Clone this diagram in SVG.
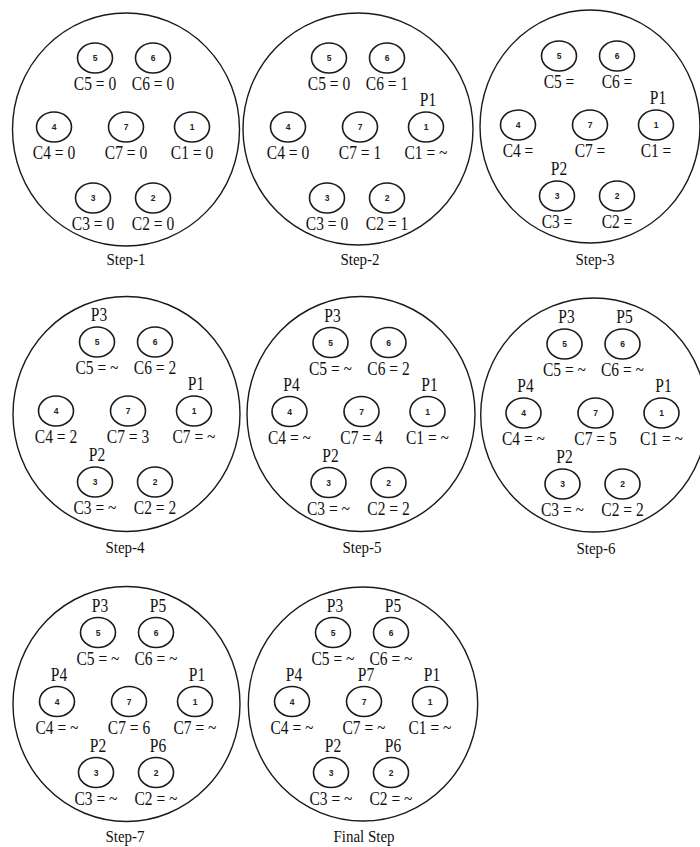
<svg xmlns="http://www.w3.org/2000/svg" width="700" height="847" viewBox="0 0 700 847">
<style>
.big{fill:none;stroke:#1a1a1a;stroke-width:1.4}
.nd{fill:none;stroke:#1a1a1a;stroke-width:1.6}
.num{font-family:"Liberation Sans",Arial,sans-serif;font-size:8.5px;font-weight:bold;fill:#222;text-anchor:middle}
.lab{font-family:"Liberation Serif","Times New Roman",serif;font-size:15.5px;fill:#111;text-anchor:middle}
.cap{font-family:"Liberation Serif","Times New Roman",serif;font-size:15px;fill:#111;text-anchor:middle}
</style>
<rect width="700" height="847" fill="#fff"/>
<g id="connectors"/>

<!-- Step-1 -->
<g id="step1" transform="translate(125,130)">
<ellipse class="big" cx="1" cy="-0.5" rx="113.5" ry="116.5"/>
<g id="s1-n5" transform="translate(-30,-72)"><ellipse class="nd" rx="17.5" ry="15"/><text class="num" y="3">5</text><text class="lab" transform="translate(0,32) scale(1,1.2)">C5 = 0</text></g>
<g id="s1-n6" transform="translate(28,-72)"><ellipse class="nd" rx="17.5" ry="15"/><text class="num" y="3">6</text><text class="lab" transform="translate(0,32) scale(1,1.2)">C6 = 0</text></g>
<g id="s1-n4" transform="translate(-71,-3)"><ellipse class="nd" rx="17.5" ry="15"/><text class="num" y="3">4</text><text class="lab" transform="translate(0,32) scale(1,1.2)">C4 = 0</text></g>
<g id="s1-n7" transform="translate(1,-3)"><ellipse class="nd" rx="17.5" ry="15"/><text class="num" y="3">7</text><text class="lab" transform="translate(0,32) scale(1,1.2)">C7 = 0</text></g>
<g id="s1-n1" transform="translate(67,-3)"><ellipse class="nd" rx="17.5" ry="15"/><text class="num" y="3">1</text><text class="lab" transform="translate(0,32) scale(1,1.2)">C1 = 0</text></g>
<g id="s1-n3" transform="translate(-32,68)"><ellipse class="nd" rx="17.5" ry="15"/><text class="num" y="3">3</text><text class="lab" transform="translate(0,32) scale(1,1.2)">C3 = 0</text></g>
<g id="s1-n2" transform="translate(28,68)"><ellipse class="nd" rx="17.5" ry="15"/><text class="num" y="3">2</text><text class="lab" transform="translate(0,32) scale(1,1.2)">C2 = 0</text></g>
<text class="cap" transform="translate(1,135) scale(1,1.18)">Step-1</text>
</g>

<!-- Step-2 -->
<g id="step2" transform="translate(359,130)">
<ellipse class="big" cx="-1" cy="-1" rx="115" ry="116"/>
<g id="s2-n5" transform="translate(-30,-72)"><ellipse class="nd" rx="17.5" ry="15"/><text class="num" y="3">5</text><text class="lab" transform="translate(0,32) scale(1,1.2)">C5 = 0</text></g>
<g id="s2-n6" transform="translate(28,-72)"><ellipse class="nd" rx="17.5" ry="15"/><text class="num" y="3">6</text><text class="lab" transform="translate(0,32) scale(1,1.2)">C6 = 1</text></g>
<g id="s2-n4" transform="translate(-71,-3)"><ellipse class="nd" rx="17.5" ry="15"/><text class="num" y="3">4</text><text class="lab" transform="translate(0,32) scale(1,1.2)">C4 = 0</text></g>
<g id="s2-n7" transform="translate(1,-3)"><ellipse class="nd" rx="17.5" ry="15"/><text class="num" y="3">7</text><text class="lab" transform="translate(0,32) scale(1,1.2)">C7 = 1</text></g>
<g id="s2-n1" transform="translate(67,-3)"><ellipse class="nd" rx="17.5" ry="15"/><text class="num" y="3">1</text><text class="lab" transform="translate(0,32) scale(1,1.2)">C1 = ~</text><text class="lab" transform="translate(2,-21) scale(1,1.2)">P1</text></g>
<g id="s2-n3" transform="translate(-32,68)"><ellipse class="nd" rx="17.5" ry="15"/><text class="num" y="3">3</text><text class="lab" transform="translate(0,32) scale(1,1.2)">C3 = 0</text></g>
<g id="s2-n2" transform="translate(28,68)"><ellipse class="nd" rx="17.5" ry="15"/><text class="num" y="3">2</text><text class="lab" transform="translate(0,32) scale(1,1.2)">C2 = 1</text></g>
<text class="cap" transform="translate(1,135) scale(1,1.18)">Step-2</text>
</g>

<!-- Step-3 -->
<g id="step3" transform="translate(589,128)">
<ellipse class="big" cx="1" cy="-1.5" rx="110" ry="116.5"/>
<g id="s3-n5" transform="translate(-30,-72)"><ellipse class="nd" rx="17.5" ry="15"/><text class="num" y="3">5</text><text class="lab" transform="translate(0,32) scale(1,1.2)">C5 =</text></g>
<g id="s3-n6" transform="translate(28,-72)"><ellipse class="nd" rx="17.5" ry="15"/><text class="num" y="3">6</text><text class="lab" transform="translate(0,32) scale(1,1.2)">C6 =</text></g>
<g id="s3-n4" transform="translate(-71,-3)"><ellipse class="nd" rx="17.5" ry="15"/><text class="num" y="3">4</text><text class="lab" transform="translate(0,32) scale(1,1.2)">C4 =</text></g>
<g id="s3-n7" transform="translate(1,-3)"><ellipse class="nd" rx="17.5" ry="15"/><text class="num" y="3">7</text><text class="lab" transform="translate(0,32) scale(1,1.2)">C7 =</text></g>
<g id="s3-n1" transform="translate(67,-3)"><ellipse class="nd" rx="17.5" ry="15"/><text class="num" y="3">1</text><text class="lab" transform="translate(0,32) scale(1,1.2)">C1 =</text><text class="lab" transform="translate(2,-21) scale(1,1.2)">P1</text></g>
<g id="s3-n3" transform="translate(-32,68)"><ellipse class="nd" rx="17.5" ry="15"/><text class="num" y="3">3</text><text class="lab" transform="translate(0,32) scale(1,1.2)">C3 =</text><text class="lab" transform="translate(2,-21) scale(1,1.2)">P2</text></g>
<g id="s3-n2" transform="translate(28,68)"><ellipse class="nd" rx="17.5" ry="15"/><text class="num" y="3">2</text><text class="lab" transform="translate(0,32) scale(1,1.2)">C2 =</text></g>
<text class="cap" transform="translate(6,137) scale(1,1.18)">Step-3</text>
</g>

<!-- Step-4 -->
<g id="step4" transform="translate(127,414)">
<ellipse class="big" cx="-0.5" cy="0" rx="113.5" ry="117.5"/>
<g id="s4-n5" transform="translate(-30,-72)"><ellipse class="nd" rx="17.5" ry="15"/><text class="num" y="3">5</text><text class="lab" transform="translate(0,32) scale(1,1.2)">C5 = ~</text><text class="lab" transform="translate(2,-21) scale(1,1.2)">P3</text></g>
<g id="s4-n6" transform="translate(28,-72)"><ellipse class="nd" rx="17.5" ry="15"/><text class="num" y="3">6</text><text class="lab" transform="translate(0,32) scale(1,1.2)">C6 = 2</text></g>
<g id="s4-n4" transform="translate(-71,-3)"><ellipse class="nd" rx="17.5" ry="15"/><text class="num" y="3">4</text><text class="lab" transform="translate(0,32) scale(1,1.2)">C4 = 2</text></g>
<g id="s4-n7" transform="translate(1,-3)"><ellipse class="nd" rx="17.5" ry="15"/><text class="num" y="3">7</text><text class="lab" transform="translate(0,32) scale(1,1.2)">C7 = 3</text></g>
<g id="s4-n1" transform="translate(67,-3)"><ellipse class="nd" rx="17.5" ry="15"/><text class="num" y="3">1</text><text class="lab" transform="translate(0,32) scale(1,1.2)">C7 = ~</text><text class="lab" transform="translate(2,-21) scale(1,1.2)">P1</text></g>
<g id="s4-n3" transform="translate(-32,68)"><ellipse class="nd" rx="17.5" ry="15"/><text class="num" y="3">3</text><text class="lab" transform="translate(0,32) scale(1,1.2)">C3 = ~</text><text class="lab" transform="translate(2,-21) scale(1,1.2)">P2</text></g>
<g id="s4-n2" transform="translate(28,68)"><ellipse class="nd" rx="17.5" ry="15"/><text class="num" y="3">2</text><text class="lab" transform="translate(0,32) scale(1,1.2)">C2 = 2</text></g>
<text class="cap" transform="translate(-2,139) scale(1,1.18)">Step-4</text>
</g>

<!-- Step-5 -->
<g id="step5" transform="translate(360.5,414.5)">
<ellipse class="big" cx="0.5" cy="-0.5" rx="114" ry="117.5"/>
<g id="s5-n5" transform="translate(-30,-72)"><ellipse class="nd" rx="17.5" ry="15"/><text class="num" y="3">5</text><text class="lab" transform="translate(0,32) scale(1,1.2)">C5 = ~</text><text class="lab" transform="translate(2,-21) scale(1,1.2)">P3</text></g>
<g id="s5-n6" transform="translate(28,-72)"><ellipse class="nd" rx="17.5" ry="15"/><text class="num" y="3">6</text><text class="lab" transform="translate(0,32) scale(1,1.2)">C6 = 2</text></g>
<g id="s5-n4" transform="translate(-71,-3)"><ellipse class="nd" rx="17.5" ry="15"/><text class="num" y="3">4</text><text class="lab" transform="translate(0,32) scale(1,1.2)">C4 = ~</text><text class="lab" transform="translate(2,-21) scale(1,1.2)">P4</text></g>
<g id="s5-n7" transform="translate(1,-3)"><ellipse class="nd" rx="17.5" ry="15"/><text class="num" y="3">7</text><text class="lab" transform="translate(0,32) scale(1,1.2)">C7 = 4</text></g>
<g id="s5-n1" transform="translate(67,-3)"><ellipse class="nd" rx="17.5" ry="15"/><text class="num" y="3">1</text><text class="lab" transform="translate(0,32) scale(1,1.2)">C1 = ~</text><text class="lab" transform="translate(2,-21) scale(1,1.2)">P1</text></g>
<g id="s5-n3" transform="translate(-32,68)"><ellipse class="nd" rx="17.5" ry="15"/><text class="num" y="3">3</text><text class="lab" transform="translate(0,32) scale(1,1.2)">C3 = ~</text><text class="lab" transform="translate(2,-21) scale(1,1.2)">P2</text></g>
<g id="s5-n2" transform="translate(28,68)"><ellipse class="nd" rx="17.5" ry="15"/><text class="num" y="3">2</text><text class="lab" transform="translate(0,32) scale(1,1.2)">C2 = 2</text></g>
<text class="cap" transform="translate(1.5,138.5) scale(1,1.18)">Step-5</text>
</g>

<!-- Step-6 -->
<g id="step6" transform="translate(594.5,416)">
<ellipse class="big" cx="-0.5" cy="-1" rx="113.3" ry="117"/>
<g id="s6-n5" transform="translate(-30,-72)"><ellipse class="nd" rx="17.5" ry="15"/><text class="num" y="3">5</text><text class="lab" transform="translate(0,32) scale(1,1.2)">C5 = ~</text><text class="lab" transform="translate(2,-21) scale(1,1.2)">P3</text></g>
<g id="s6-n6" transform="translate(28,-72)"><ellipse class="nd" rx="17.5" ry="15"/><text class="num" y="3">6</text><text class="lab" transform="translate(0,32) scale(1,1.2)">C6 = ~</text><text class="lab" transform="translate(2,-21) scale(1,1.2)">P5</text></g>
<g id="s6-n4" transform="translate(-71,-3)"><ellipse class="nd" rx="17.5" ry="15"/><text class="num" y="3">4</text><text class="lab" transform="translate(0,32) scale(1,1.2)">C4 = ~</text><text class="lab" transform="translate(2,-21) scale(1,1.2)">P4</text></g>
<g id="s6-n7" transform="translate(1,-3)"><ellipse class="nd" rx="17.5" ry="15"/><text class="num" y="3">7</text><text class="lab" transform="translate(0,32) scale(1,1.2)">C7 = 5</text></g>
<g id="s6-n1" transform="translate(67,-3)"><ellipse class="nd" rx="17.5" ry="15"/><text class="num" y="3">1</text><text class="lab" transform="translate(0,32) scale(1,1.2)">C1 = ~</text><text class="lab" transform="translate(2,-21) scale(1,1.2)">P1</text></g>
<g id="s6-n3" transform="translate(-32,68)"><ellipse class="nd" rx="17.5" ry="15"/><text class="num" y="3">3</text><text class="lab" transform="translate(0,32) scale(1,1.2)">C3 = ~</text><text class="lab" transform="translate(2,-21) scale(1,1.2)">P2</text></g>
<g id="s6-n2" transform="translate(28,68)"><ellipse class="nd" rx="17.5" ry="15"/><text class="num" y="3">2</text><text class="lab" transform="translate(0,32) scale(1,1.2)">C2 = 2</text></g>
<text class="cap" transform="translate(1.5,138) scale(1,1.18)">Step-6</text>
</g>

<!-- Step-7 -->
<g id="step7" transform="translate(128,704.5)">
<ellipse class="big" cx="-1.5" cy="-0.5" rx="113.5" ry="117.5"/>
<g id="s7-n5" transform="translate(-30,-72)"><ellipse class="nd" rx="17.5" ry="15"/><text class="num" y="3">5</text><text class="lab" transform="translate(0,32) scale(1,1.2)">C5 = ~</text><text class="lab" transform="translate(2,-21) scale(1,1.2)">P3</text></g>
<g id="s7-n6" transform="translate(28,-72)"><ellipse class="nd" rx="17.5" ry="15"/><text class="num" y="3">6</text><text class="lab" transform="translate(0,32) scale(1,1.2)">C6 = ~</text><text class="lab" transform="translate(2,-21) scale(1,1.2)">P5</text></g>
<g id="s7-n4" transform="translate(-71,-3)"><ellipse class="nd" rx="17.5" ry="15"/><text class="num" y="3">4</text><text class="lab" transform="translate(0,32) scale(1,1.2)">C4 = ~</text><text class="lab" transform="translate(2,-21) scale(1,1.2)">P4</text></g>
<g id="s7-n7" transform="translate(1,-3)"><ellipse class="nd" rx="17.5" ry="15"/><text class="num" y="3">7</text><text class="lab" transform="translate(0,32) scale(1,1.2)">C7 = 6</text></g>
<g id="s7-n1" transform="translate(67,-3)"><ellipse class="nd" rx="17.5" ry="15"/><text class="num" y="3">1</text><text class="lab" transform="translate(0,32) scale(1,1.2)">C7 = ~</text><text class="lab" transform="translate(2,-21) scale(1,1.2)">P1</text></g>
<g id="s7-n3" transform="translate(-32,68)"><ellipse class="nd" rx="17.5" ry="15"/><text class="num" y="3">3</text><text class="lab" transform="translate(0,32) scale(1,1.2)">C3 = ~</text><text class="lab" transform="translate(2,-21) scale(1,1.2)">P2</text></g>
<g id="s7-n2" transform="translate(28,68)"><ellipse class="nd" rx="17.5" ry="15"/><text class="num" y="3">2</text><text class="lab" transform="translate(0,32) scale(1,1.2)">C2 = ~</text><text class="lab" transform="translate(2,-21) scale(1,1.2)">P6</text></g>
<text class="cap" transform="translate(-3,137.5) scale(1,1.18)">Step-7</text>
</g>

<!-- Final Step -->
<g id="step8" transform="translate(363,704.5)">
<ellipse class="big" cx="0" cy="-0.5" rx="114.7" ry="117"/>
<g id="s8-n5" transform="translate(-30,-72)"><ellipse class="nd" rx="17.5" ry="15"/><text class="num" y="3">5</text><text class="lab" transform="translate(0,32) scale(1,1.2)">C5 = ~</text><text class="lab" transform="translate(2,-21) scale(1,1.2)">P3</text></g>
<g id="s8-n6" transform="translate(28,-72)"><ellipse class="nd" rx="17.5" ry="15"/><text class="num" y="3">6</text><text class="lab" transform="translate(0,32) scale(1,1.2)">C6 = ~</text><text class="lab" transform="translate(2,-21) scale(1,1.2)">P5</text></g>
<g id="s8-n4" transform="translate(-71,-3)"><ellipse class="nd" rx="17.5" ry="15"/><text class="num" y="3">4</text><text class="lab" transform="translate(0,32) scale(1,1.2)">C4 = ~</text><text class="lab" transform="translate(2,-21) scale(1,1.2)">P4</text></g>
<g id="s8-n7" transform="translate(1,-3)"><ellipse class="nd" rx="17.5" ry="15"/><text class="num" y="3">7</text><text class="lab" transform="translate(0,32) scale(1,1.2)">C7 = ~</text><text class="lab" transform="translate(2,-21) scale(1,1.2)">P7</text></g>
<g id="s8-n1" transform="translate(67,-3)"><ellipse class="nd" rx="17.5" ry="15"/><text class="num" y="3">1</text><text class="lab" transform="translate(0,32) scale(1,1.2)">C1 = ~</text><text class="lab" transform="translate(2,-21) scale(1,1.2)">P1</text></g>
<g id="s8-n3" transform="translate(-32,68)"><ellipse class="nd" rx="17.5" ry="15"/><text class="num" y="3">3</text><text class="lab" transform="translate(0,32) scale(1,1.2)">C3 = ~</text><text class="lab" transform="translate(2,-21) scale(1,1.2)">P2</text></g>
<g id="s8-n2" transform="translate(28,68)"><ellipse class="nd" rx="17.5" ry="15"/><text class="num" y="3">2</text><text class="lab" transform="translate(0,32) scale(1,1.2)">C2 = ~</text><text class="lab" transform="translate(2,-21) scale(1,1.2)">P6</text></g>
<text class="cap" transform="translate(1,137.5) scale(1,1.18)">Final Step</text>
</g>
</svg>
